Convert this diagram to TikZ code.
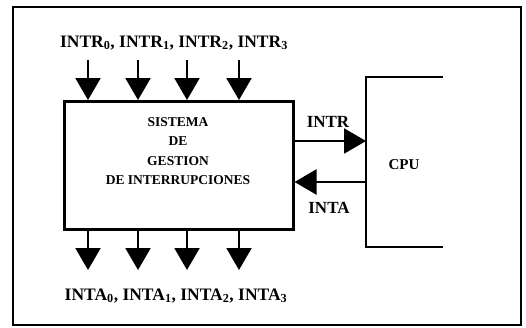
\documentclass[tikz,border=0pt]{standalone}
\usepackage{fontspec}
\setmainfont{Liberation Serif}
\usetikzlibrary{arrows.meta}
\begin{document}
\begin{tikzpicture}[x=1pt,y=-1pt,
  lbl/.style={font=\fontsize{17.5}{20}\selectfont\bfseries, inner sep=0pt},
  sidelbl/.style={font=\fontsize{17}{20}\selectfont\bfseries, inner sep=0pt},
  sig/.style={line width=2.2pt, -{Triangle[width=25pt,length=22pt]}},
  frame/.style={line width=2.5pt},
]
\useasboundingbox (0,0) rectangle (526,327);
\draw[line width=1.5pt] (13,7) rectangle (521,325);
% main box
\node[draw, line width=2.5pt, minimum width=229pt, minimum height=128pt, anchor=north west, inner sep=0pt] (box) at (63,100) {};
\node[align=center, inner sep=0pt, font=\fontsize{13.5}{19.5}\selectfont\bfseries] (boxtxt) at (178,151)
  {SISTEMA\\DE\\GESTION\\DE INTERRUPCIONES};
% top / bottom labels
\node[lbl, anchor=base] (top) at (174,47) {INTR\textsubscript{0}, INTR\textsubscript{1}, INTR\textsubscript{2}, INTR\textsubscript{3}};
\node[lbl, anchor=base] (bot) at (176,300) {INTA\textsubscript{0}, INTA\textsubscript{1}, INTA\textsubscript{2}, INTA\textsubscript{3}};
% request and acknowledge arrows
\foreach \x [count=\i] in {88,138,187,239} {
  \coordinate (in\i) at (\x,60);
  \draw[sig] (in\i) -- (in\i |- box.north);
  \coordinate (out\i) at (\x,270);
  \draw[sig] (out\i |- box.south) -- (out\i);
}
% CPU bracket
\coordinate (cpuTR) at (443,77);
\coordinate (cpuTL) at (366,77);
\coordinate (cpuBL) at (366,247);
\coordinate (cpuBR) at (443,247);
\draw[frame] (cpuTR) -- (cpuTL) -- (cpuBL) -- (cpuBR);
\node[font=\fontsize{15}{18}\selectfont\bfseries] (cpu) at (404,165) {CPU};
% INTR / INTA
\coordinate (intrE) at (366,141);
\coordinate (intaS) at (366,182);
\draw[sig] (intrE -| box.east) -- (intrE);
\draw[sig] (intaS) -- (intaS -| box.east);
\node[sidelbl] (intr) at (328,122) {INTR};
\node[sidelbl] (inta) at (329,208) {INTA};
\end{tikzpicture}
\end{document}
